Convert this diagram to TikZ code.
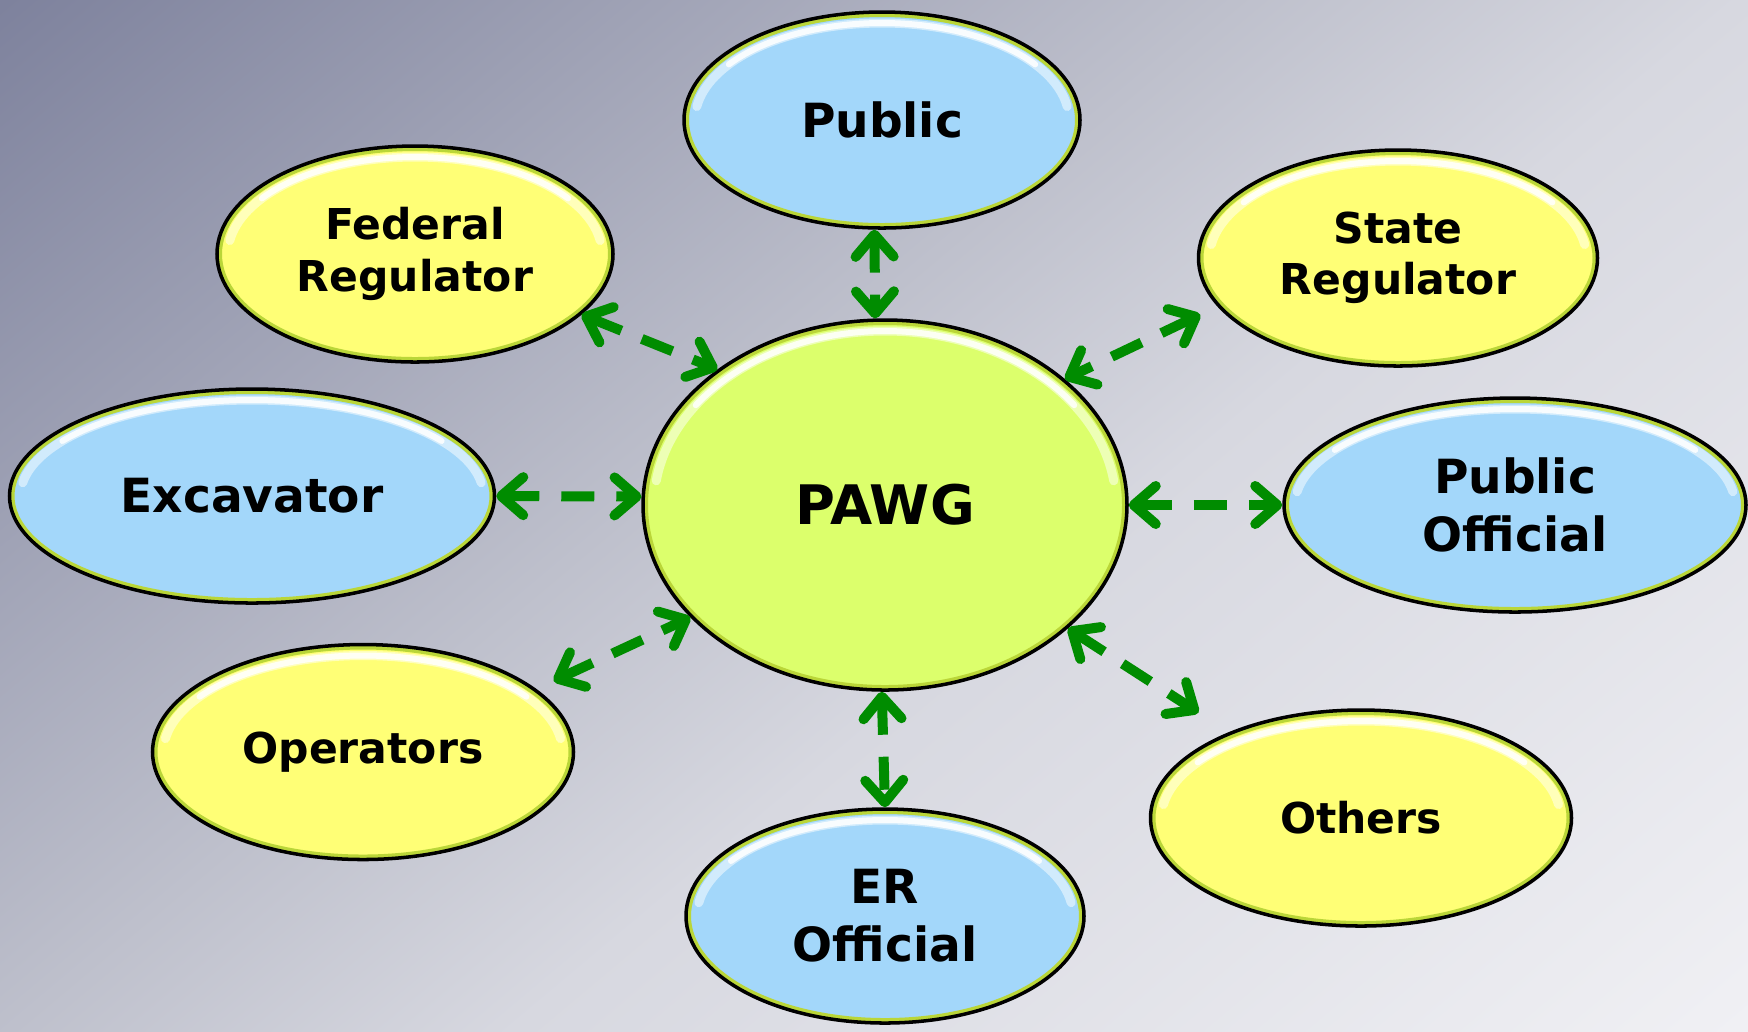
\documentclass[tikz,border=0pt]{standalone}
\usepackage{fontspec}
\newfontfamily\bubblefont{DejaVu Sans}
\usetikzlibrary{arrows.meta, shapes.geometric, calc}
\definecolor{bgA}{RGB}{126,130,157}
\definecolor{bgB}{RGB}{190,192,204}
\definecolor{bgC}{RGB}{215,216,224}
\definecolor{bgD}{RGB}{240,240,244}
\definecolor{skyfill}{RGB}{163,215,250}
\definecolor{lemonfill}{RGB}{255,255,118}
\definecolor{limefill}{RGB}{220,255,108}
\definecolor{rimgreen}{RGB}{186,214,56}
\definecolor{linkgreen}{RGB}{0,140,0}
\pgfdeclarehorizontalshading{bgwash}{100bp}{color(0bp)=(bgA); color(26.5bp)=(bgA);
    color(46bp)=(bgB); color(54bp)=(bgC); color(73.5bp)=(bgD); color(100bp)=(bgD)}
\tikzset{
    bubble/.style={ellipse,draw=black,line width=1pt,inner sep=0pt,align=center,
        font=\bubblefont\bfseries\fontsize{13.4}{14.6}\selectfont,
        path picture={
            \draw[rimgreen,line width=1mm]
                let \p1=($(path picture bounding box.north east)-(path picture bounding box.center)$) in
                (path picture bounding box.center) ellipse [x radius=\x1, y radius=\y1];
            \draw[white,opacity=.5,line width=0.9mm,line cap=round]
                let \p1=($(path picture bounding box.north east)-(path picture bounding box.center)$) in
                ([shift={(8:\x1-1.1mm and \y1-1.1mm)}]path picture bounding box.center)
                arc[start angle=8,end angle=172,x radius=\x1-1.1mm,y radius=\y1-1.1mm];
            \draw[white,opacity=.85,line width=0.6mm,line cap=round]
                let \p1=($(path picture bounding box.north east)-(path picture bounding box.center)$) in
                ([shift={(35:\x1-1.1mm and \y1-1.1mm)}]path picture bounding box.center)
                arc[start angle=35,end angle=145,x radius=\x1-1.1mm,y radius=\y1-1.1mm];
        }},
    skyball/.style={bubble,fill=skyfill},
    lemonball/.style={bubble,fill=lemonfill,font=\bubblefont\bfseries\fontsize{12.1}{14.6}\selectfont},
    hubball/.style={bubble,fill=limefill,font=\bubblefont\bfseries\fontsize{15.5}{17}\selectfont},
    link/.style={draw=linkgreen,line width=1mm,dash pattern=on 3.3mm off 2.2mm,
        {Straight Barb[length=2.2mm,width=3.8mm,round]}-{Straight Barb[length=2.2mm,width=3.8mm,round]}},
}
\begin{document}
\begin{tikzpicture}[x=0.1mm,y=-0.1mm]
\begin{scope}
\clip (0,0) rectangle (1748,1031);
\shade[shading=bgwash,shading angle=-50] (-142,-500.5) rectangle (1890,1531.5);
\end{scope}
\useasboundingbox (0,0) rectangle (1748,1031);

\node[hubball,minimum width=48.4mm,minimum height=37mm] (pawg) at (885,505) {PAWG};
\node[skyball,minimum width=39.6mm,minimum height=21.6mm] (pub) at (882,120) {Public};
\node[lemonball,minimum width=39.6mm,minimum height=21.6mm] (fed) at (415,254) {Federal\\Regulator};
\node[lemonball,minimum width=39.9mm,minimum height=21.6mm] (state) at (1398,258) {State\\Regulator};
\node[skyball,minimum width=48.5mm,minimum height=21.4mm] (exc) at (252,496) {Excavator};
\node[skyball,minimum width=46.2mm,minimum height=21.4mm] (pof) at (1515,505) {Public\\[1.9pt]Official};
\node[lemonball,minimum width=42.1mm,minimum height=21.5mm] (ops) at (363,752) {Operators};
\node[skyball,minimum width=39.8mm,minimum height=21.4mm] (er) at (885,916) {ER\\[1.9pt]Official};
\node[lemonball,minimum width=42.1mm,minimum height=21.6mm] (oth) at (1361,818) {Others};

% two-way links to the hub
\draw[link] (pub.-94) -- (pawg.93);
\draw[link] (fed.-20) -- (pawg.141);
\draw[link,shorten <=1.9mm] (state.195) -- (pawg.35);
\draw[link] (exc.0) -- (pawg.178);
\draw[link] (pawg.east) -- (pof.west);
\draw[link,shorten <=1.9mm] (ops.20) -- (pawg.210);
\draw[link] (pawg.-91) -- (er.90);
\draw[link,shorten >=3.6mm] (pawg.-34) -- (oth.147);
\end{tikzpicture}
\end{document}
